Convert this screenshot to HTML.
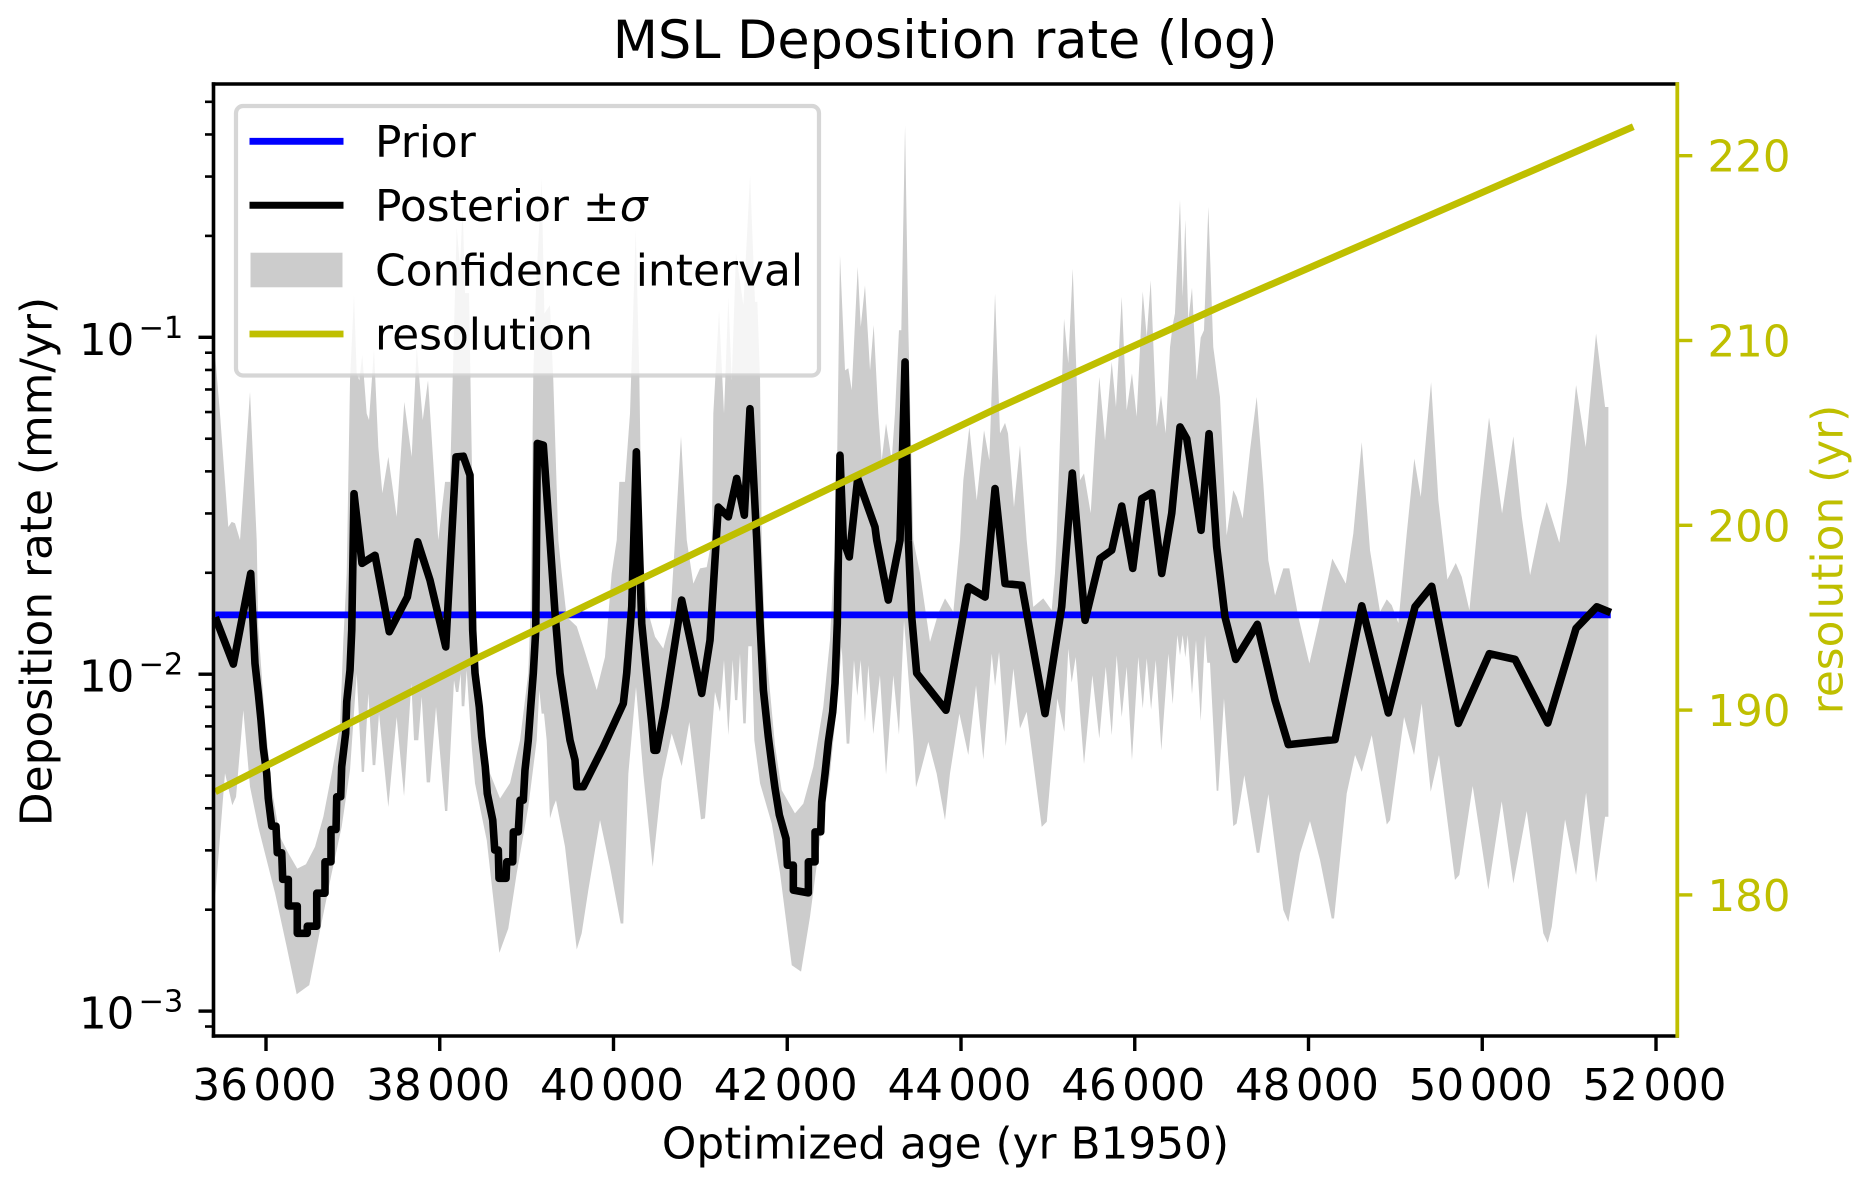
<!DOCTYPE html>
<html>
<head>
<meta charset="utf-8">
<title>MSL Deposition rate (log)</title>
<style>
html,body{margin:0;padding:0;background:#fff;}
svg{display:block;}
text{font-family:"DejaVu Sans","Liberation Sans",sans-serif;}
</style>
</head>
<body>
<svg id="chart" xmlns="http://www.w3.org/2000/svg" width="1869" height="1187" viewBox="0 0 1869 1187">
  <rect x="0" y="0" width="1869" height="1187" fill="#ffffff"/>
  <text x="945.2" y="58" font-size="52.4" text-anchor="middle" fill="#000">MSL Deposition rate (log)</text>
  <text x="945.5" y="1158.5" font-size="43.8" text-anchor="middle" fill="#000">Optimized age (yr B1950)</text>
  <text transform="translate(51.7,561.5) rotate(-90)" font-size="43.8" text-anchor="middle" fill="#000">Deposition rate (mm/yr)</text>
  <text transform="translate(1842.7,559.5) rotate(-90)" font-size="43.8" text-anchor="middle" fill="#bfbf00">resolution (yr)</text>
  <g id="plot"></g>
  <g id="axes"></g>
  <g>
    <rect x="236" y="106" width="583" height="269.5" rx="7" ry="7" fill="#ffffff" fill-opacity="0.8" stroke="#cccccc" stroke-opacity="0.8" stroke-width="4.2"/>
    <line x1="249.5" x2="343.5" y1="141.3" y2="141.3" stroke="#0000ff" stroke-width="6.8"/>
    <text x="375" y="157" font-size="43.9" fill="#000">Prior</text>
    <line x1="249.5" x2="343.5" y1="205.3" y2="205.3" stroke="#000000" stroke-width="7"/>
    <text x="375" y="221" font-size="43.9" fill="#000">Posterior ±<tspan font-style="italic">σ</tspan></text>
    <rect x="250.5" y="252.7" width="92" height="34.6" fill="#cccccc"/>
    <text x="375" y="285.5" font-size="43.9" fill="#000">Confidence interval</text>
    <line x1="249.5" x2="343.5" y1="334" y2="334" stroke="#bfbf00" stroke-width="6.8"/>
    <text x="375" y="349.5" font-size="43.9" fill="#000">resolution</text>
  </g>
</svg>
<script>
// Axis tick values
const xTickValues = [36000, 38000, 40000, 42000, 44000, 46000, 48000, 50000, 52000];
const yTickExponents = [-1, -2, -3];
const yMinorMultipliers = [2, 3, 4, 5, 6, 7, 8, 9];
const rightTickValues = [180, 190, 200, 210, 220];

// Prior: constant rate in mm/yr
const priorAges = [35416, 51479];
const priorRates = [0.015, 0.015];

// Resolution line (yr) on right axis
const resolutionAges = [35416, 38425, 41226, 44372, 46981, 51739];
const resolutionValues = [185.58, 192.8, 199.15, 206.24, 211.83, 221.57];

// Posterior mean: age (yr) and log10(rate in mm/yr)
const posteriorAges = [35416,35624,35824,35873,35911,35942,35969,36008,36026,36066,36115,36130,36181,36192,36257,36257,36360,36360,36475,36475,36584,36584,36679,36679,36748,36748,36806,36814,36860,36871,36917,36929,36967,36987,37013,37105,37255,37419,37627,37746,37888,38069,38187,38271,38348,38379,38406,38455,38483,38524,38547,38610,38633,38674,38682,38763,38771,38840,38847,38904,38924,38962,38981,39019,39047,39077,39105,39123,39192,39269,39327,39384,39442,39499,39557,39577,39653,39883,40113,40152,40210,40263,40325,40382,40440,40466,40497,40593,40785,41015,41111,41206,41322,41418,41506,41571,41649,41687,41725,41782,41821,41859,41909,41986,42001,42070,42070,42243,42243,42320,42320,42385,42397,42435,42473,42523,42550,42576,42607,42645,42714,42811,43010,43030,43163,43298,43356,43394,43433,43490,43827,43951,44084,44277,44392,44507,44699,44967,45159,45281,45428,45600,45735,45850,45977,46080,46195,46310,46426,46521,46598,46763,46855,46943,47039,47162,47411,47615,47768,48306,48613,48919,49226,49418,49725,50082,50378,50754,51080,51318,51479];
const posteriorLog10 = [-1.831,-1.970,-1.701,-1.968,-2.056,-2.136,-2.220,-2.294,-2.368,-2.451,-2.451,-2.530,-2.530,-2.609,-2.609,-2.688,-2.688,-2.769,-2.769,-2.748,-2.748,-2.650,-2.650,-2.557,-2.557,-2.461,-2.461,-2.364,-2.364,-2.275,-2.175,-2.082,-1.988,-1.869,-1.464,-1.671,-1.647,-1.874,-1.771,-1.607,-1.721,-1.919,-1.355,-1.353,-1.409,-1.869,-1.997,-2.097,-2.186,-2.275,-2.354,-2.433,-2.522,-2.522,-2.606,-2.606,-2.557,-2.557,-2.468,-2.468,-2.374,-2.374,-2.285,-2.196,-2.097,-1.997,-1.869,-1.315,-1.320,-1.602,-1.819,-1.997,-2.097,-2.196,-2.255,-2.334,-2.334,-2.216,-2.087,-1.997,-1.800,-1.340,-1.850,-1.997,-2.145,-2.226,-2.226,-2.097,-1.780,-2.057,-1.899,-1.504,-1.533,-1.419,-1.528,-1.212,-1.602,-1.849,-2.047,-2.186,-2.265,-2.338,-2.418,-2.488,-2.567,-2.567,-2.641,-2.649,-2.557,-2.557,-2.468,-2.468,-2.379,-2.295,-2.201,-2.112,-2.027,-1.849,-1.350,-1.602,-1.652,-1.419,-1.563,-1.602,-1.780,-1.602,-1.073,-1.602,-1.830,-1.997,-2.107,-1.929,-1.741,-1.771,-1.449,-1.731,-1.736,-2.117,-1.800,-1.403,-1.840,-1.657,-1.632,-1.501,-1.686,-1.479,-1.462,-1.701,-1.522,-1.266,-1.301,-1.573,-1.286,-1.622,-1.830,-1.956,-1.852,-2.077,-2.209,-2.194,-1.797,-2.115,-1.800,-1.739,-2.146,-1.939,-1.956,-2.145,-1.864,-1.800,-1.817];

// Confidence band upper edge: age (yr) and log10(rate in mm/yr)
const upperAges = [35416,35470,35566,35605,35643,35701,35816,35893,35900,35911,35988,36069,36161,36257,36360,36460,36564,36660,36756,36852,36890,36929,36967,37013,37044,37074,37108,37159,37186,37243,37293,37339,37408,37504,37592,37677,37735,37804,37865,37983,38061,38118,38195,38233,38264,38291,38337,38360,38386,38417,38486,38578,38694,38809,38924,39019,39047,39077,39112,39173,39204,39269,39307,39365,39404,39461,39577,39653,39807,39902,39979,40037,40067,40132,40190,40256,40297,40325,40382,40478,40573,40650,40708,40777,40843,40919,40996,41073,41131,41149,41215,41272,41322,41361,41410,41495,41572,41629,41656,41687,41706,41744,41782,41859,41936,42089,42185,42300,42415,42492,42530,42561,42607,42665,42703,42742,42811,42846,42895,42953,42995,43048,43087,43137,43202,43240,43286,43313,43356,43394,43451,43528,43643,43739,43816,43912,43989,44027,44096,44181,44265,44326,44392,44449,44507,44541,44610,44679,44756,44832,44947,45044,45082,45101,45186,45235,45286,45332,45370,45416,45493,45543,45592,45658,45735,45784,45850,45907,45968,46022,46092,46138,46184,46253,46302,46356,46406,46437,46463,46521,46552,46582,46617,46659,46713,46759,46797,46847,46904,46981,47058,47134,47173,47242,47327,47404,47480,47538,47615,47710,47779,47883,48010,48133,48274,48429,48516,48613,48708,48823,48901,48958,49034,49131,49218,49292,49411,49495,49599,49695,49764,49852,49974,50078,50228,50358,50455,50551,50665,50742,50887,50973,51080,51191,51310,51414,51452];
const upperLog10 = [-1.058,-1.226,-1.563,-1.548,-1.552,-1.602,-1.162,-1.602,-1.700,-1.860,-2.136,-2.344,-2.483,-2.531,-2.577,-2.564,-2.512,-2.423,-2.295,-2.156,-1.899,-1.700,-1.128,-0.875,-1.107,-1.128,-1.053,-1.226,-1.246,-1.036,-1.326,-1.463,-1.355,-1.533,-1.192,-1.355,-1.029,-1.246,-1.128,-1.602,-1.429,-1.429,-0.673,-0.791,-0.613,-0.869,-0.869,-1.226,-1.602,-1.958,-2.166,-2.294,-2.369,-2.323,-2.196,-1.997,-1.800,-1.107,-0.831,-0.529,-0.929,-0.905,-1.128,-1.602,-1.700,-1.830,-1.858,-1.919,-2.047,-1.949,-1.701,-1.602,-1.429,-1.429,-1.226,-0.682,-1.107,-1.602,-1.800,-1.889,-1.924,-1.849,-1.602,-1.294,-1.602,-1.731,-1.686,-1.682,-1.602,-1.226,-0.920,-1.226,-0.880,-1.128,-0.751,-0.905,-0.519,-0.895,-0.895,-1.128,-1.602,-1.899,-1.997,-2.211,-2.344,-2.413,-2.384,-2.275,-2.097,-1.899,-1.700,-1.602,-0.757,-1.098,-1.092,-1.157,-0.791,-0.969,-0.846,-1.098,-0.964,-1.226,-1.365,-1.256,-1.365,-1.226,-0.979,-0.979,-0.371,-0.979,-1.602,-1.700,-1.904,-1.819,-1.775,-1.815,-1.602,-1.424,-1.266,-1.484,-1.276,-1.365,-0.870,-1.285,-1.254,-1.285,-1.504,-1.320,-1.602,-1.800,-1.775,-1.810,-1.700,-1.602,-0.945,-1.077,-0.796,-1.128,-1.424,-1.404,-1.522,-1.306,-1.118,-1.306,-1.073,-1.207,-0.880,-1.217,-1.107,-1.236,-0.864,-0.999,-0.831,-1.266,-1.172,-1.285,-1.029,-0.964,-0.929,-0.593,-0.880,-0.651,-0.950,-0.853,-1.128,-1.001,-0.979,-0.613,-1.029,-1.177,-1.588,-1.454,-1.474,-1.538,-1.335,-1.177,-1.434,-1.662,-1.766,-1.686,-1.686,-1.830,-1.968,-1.830,-1.657,-1.731,-1.582,-1.311,-1.632,-1.815,-1.778,-1.795,-1.848,-1.582,-1.360,-1.474,-1.133,-1.484,-1.719,-1.670,-1.711,-1.810,-1.484,-1.238,-1.523,-1.294,-1.533,-1.706,-1.563,-1.489,-1.610,-1.434,-1.142,-1.326,-0.989,-1.207,-1.207];

// Confidence band lower edge: age (yr) and log10(rate in mm/yr)
const lowerAges = [35416,35528,35612,35655,35739,35816,35911,36104,36238,36353,36498,36622,36756,36871,36967,37044,37102,37128,37178,37228,37258,37301,37408,37504,37589,37673,37704,37753,37792,37850,37888,37957,38061,38087,38164,38187,38214,38241,38253,38283,38310,38368,38406,38541,38686,38789,38886,39019,39116,39146,39173,39200,39231,39269,39307,39338,39442,39577,39634,39710,39845,39960,40083,40113,40171,40259,40343,40451,40555,40670,40785,40873,41007,41053,41168,41226,41272,41322,41372,41399,41425,41456,41494,41522,41552,41591,41621,41687,41821,41917,42052,42159,42262,42377,42492,42569,42627,42684,42714,42768,42806,42845,42895,42933,42990,43067,43137,43221,43286,43344,43451,43482,43528,43624,43720,43816,43873,43981,44084,44173,44257,44354,44392,44438,44515,44603,44679,44756,44929,44987,45109,45189,45235,45274,45320,45416,45512,45592,45666,45735,45792,45850,45907,45968,46041,46092,46138,46188,46242,46306,46387,46437,46490,46521,46552,46582,46610,46659,46705,46759,46809,46835,46866,46943,46962,47027,47134,47173,47261,47404,47434,47538,47710,47768,47902,48017,48133,48267,48294,48440,48536,48613,48728,48901,48939,49100,49215,49303,49407,49502,49686,49736,49890,50070,50224,50358,50512,50703,50754,50800,50953,51080,51195,51310,51414,51452];
const lowerLog10 = [-2.661,-2.294,-2.389,-2.364,-2.107,-2.334,-2.453,-2.650,-2.809,-2.950,-2.923,-2.760,-2.591,-2.453,-2.285,-1.998,-2.290,-2.290,-2.057,-2.270,-2.270,-2.117,-2.394,-2.127,-2.362,-2.028,-2.196,-2.196,-2.067,-2.321,-2.321,-2.097,-2.406,-2.406,-2.018,-2.053,-2.053,-1.998,-2.095,-2.095,-1.988,-2.216,-2.324,-2.493,-2.827,-2.755,-2.591,-2.394,-2.196,-2.047,-2.117,-2.117,-2.196,-2.428,-2.394,-2.374,-2.512,-2.817,-2.769,-2.641,-2.433,-2.572,-2.740,-2.740,-2.295,-2.038,-2.295,-2.572,-2.315,-2.176,-2.273,-2.142,-2.431,-2.428,-2.053,-2.112,-1.958,-2.181,-1.958,-2.077,-2.077,-1.939,-2.146,-2.146,-1.917,-1.917,-2.196,-2.324,-2.443,-2.591,-2.864,-2.883,-2.720,-2.493,-2.295,-2.097,-1.919,-2.206,-2.206,-1.958,-2.064,-1.958,-2.142,-1.973,-2.178,-2.003,-2.298,-2.003,-2.179,-1.840,-2.196,-2.336,-2.295,-2.201,-2.295,-2.433,-2.295,-2.117,-2.240,-2.033,-2.253,-1.939,-2.035,-1.934,-2.214,-1.983,-2.161,-2.112,-2.453,-2.438,-2.072,-2.171,-1.924,-2.025,-1.949,-2.267,-2.003,-2.191,-1.978,-2.181,-1.944,-2.127,-1.978,-2.255,-1.949,-2.102,-1.953,-2.105,-1.958,-2.226,-1.939,-2.089,-1.884,-1.944,-1.884,-1.950,-1.884,-2.059,-1.899,-2.139,-1.884,-1.966,-1.966,-2.346,-2.346,-2.072,-2.451,-2.443,-2.300,-2.530,-2.530,-2.356,-2.700,-2.735,-2.532,-2.436,-2.552,-2.725,-2.725,-2.354,-2.240,-2.290,-2.181,-2.446,-2.433,-2.127,-2.240,-2.087,-2.349,-2.240,-2.611,-2.596,-2.332,-2.639,-2.377,-2.621,-2.406,-2.769,-2.797,-2.750,-2.431,-2.596,-2.352,-2.619,-2.423,-2.423];

// Axis frame and scales
const SVG_NS = 'http://www.w3.org/2000/svg';
const frame = { left: 213.5, right: 1677.3, top: 84, bottom: 1036 };
function xScale(age) { return 266 + (age - 36000) * 0.086875; }
function yScaleLog(log10v) { return 674.2 - (log10v + 2) * 336.9; }
function yScaleRate(rate) { return yScaleLog(Math.log10(rate)); }
function yScaleRight(res) { return 155.7 + (220 - res) * 18.48; }

function make(tag, attrs, parent) {
  const el = document.createElementNS(SVG_NS, tag);
  for (const k in attrs) el.setAttribute(k, attrs[k]);
  parent.appendChild(el);
  return el;
}
function pointString(xs, ys, yFn) {
  return xs.map(function (a, i) { return xScale(a).toFixed(2) + ',' + yFn(ys[i]).toFixed(2); });
}

const plot = document.getElementById('plot');
const axes = document.getElementById('axes');

// Confidence band
const bandTop = pointString(upperAges, upperLog10, yScaleLog);
const bandBottom = pointString(lowerAges, lowerLog10, yScaleLog).reverse();
const band = make('polygon', { points: bandTop.concat(bandBottom).join(' '), fill: '#cccccc', stroke: 'none' }, plot);



// Prior line
const priorLine = make('polyline', { points: pointString(priorAges, priorRates, yScaleRate).join(' '), fill: 'none', stroke: '#0000ff', 'stroke-width': 6.8 }, plot);



// Posterior line
const posteriorLine = make('polyline', { points: pointString(posteriorAges, posteriorLog10, yScaleLog).join(' '), fill: 'none', stroke: '#000000', 'stroke-width': 7.6, 'stroke-linejoin': 'round', 'stroke-linecap': 'butt' }, plot);



// Resolution line
const resolutionLine = make('polyline', { points: pointString(resolutionAges, resolutionValues, yScaleRight).join(' '), fill: 'none', stroke: '#bfbf00', 'stroke-width': 7, 'stroke-linejoin': 'round' }, plot);



// Spines
const spineTop = make('line', { x1: frame.left - 1.7, x2: frame.right + 1.7, y1: frame.top, y2: frame.top, stroke: '#000', 'stroke-width': 3.6 }, axes);


const spineBottom = make('line', { x1: frame.left - 1.7, x2: frame.right + 1.7, y1: frame.bottom, y2: frame.bottom, stroke: '#000', 'stroke-width': 3.6 }, axes);


const spineLeft = make('line', { x1: frame.left, x2: frame.left, y1: frame.top - 1.7, y2: frame.bottom + 1.7, stroke: '#000', 'stroke-width': 3.6 }, axes);


const spineRight = make('line', { x1: frame.right, x2: frame.right, y1: frame.top - 1.7, y2: frame.bottom + 1.7, stroke: '#bfbf00', 'stroke-width': 3.8 }, axes);



// X ticks and labels
xTickValues.forEach(function (v) {
  const x = xScale(v);
  const tick = make('line', { x1: x, x2: x, y1: frame.bottom, y2: frame.bottom + 15, stroke: '#000', 'stroke-width': 3.4 }, axes);
  
  
  const s = String(v);
  const label = make('text', { x: x - 1.5, y: 1100, 'font-size': 43.5, 'text-anchor': 'middle', fill: '#000' }, axes);
  
  
  label.appendChild(document.createTextNode(s.slice(0, 2)));
  const tail = make('tspan', { dx: 5.5 }, label);
  
  
  tail.textContent = s.slice(2);
});

// Left log ticks and labels
yTickExponents.forEach(function (e) {
  const y = yScaleLog(e);
  const tick = make('line', { x1: frame.left - 15, x2: frame.left, y1: y, y2: y, stroke: '#000', 'stroke-width': 3.4 }, axes);
  
  
  const label = make('text', { x: 79, y: y + 17.5, 'font-size': 43.5, fill: '#000' }, axes);
  
  
  label.appendChild(document.createTextNode('10'));
  const sup = make('tspan', { dy: -17, dx: 4, 'font-size': 30.5 }, label);
  
  
  sup.textContent = '\u2212' + Math.abs(e);
});
[-4, -3, -2, -1].forEach(function (decade) {
  yMinorMultipliers.forEach(function (m) {
    const y = yScaleLog(decade + Math.log10(m));
    if (y < frame.top || y > frame.bottom) return;
    const tick = make('line', { x1: frame.left - 8.5, x2: frame.left, y1: y, y2: y, stroke: '#000', 'stroke-width': 2.6 }, axes);
    
    
  });
});

// Right ticks and labels
rightTickValues.forEach(function (v) {
  const y = yScaleRight(v);
  const tick = make('line', { x1: frame.right, x2: frame.right + 15, y1: y, y2: y, stroke: '#bfbf00', 'stroke-width': 3.4 }, axes);
  
  
  const label = make('text', { x: 1707.5, y: y + 16, 'font-size': 43.5, fill: '#bfbf00' }, axes);
  
  
  label.textContent = String(v);
});
</script>
</body>
</html>
